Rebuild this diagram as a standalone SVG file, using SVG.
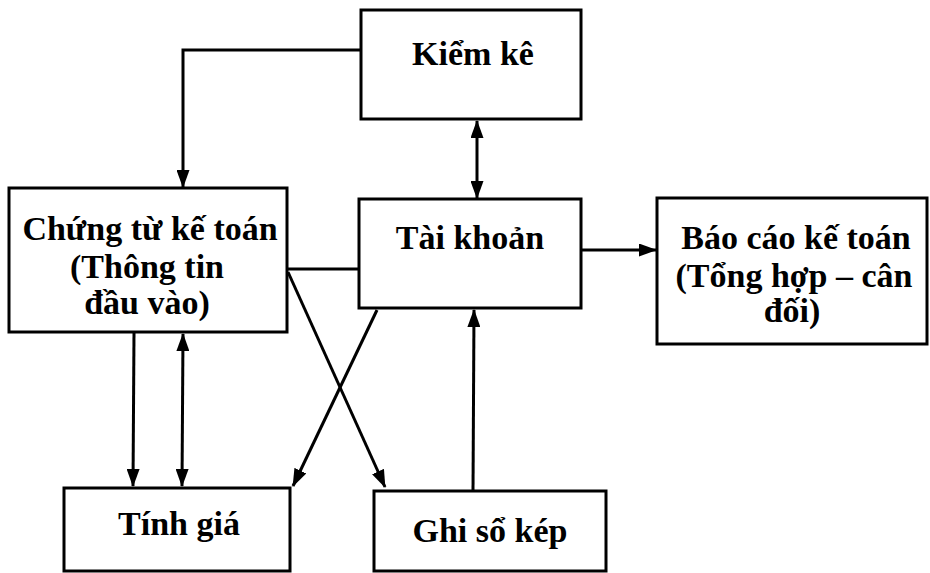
<svg xmlns="http://www.w3.org/2000/svg" width="930" height="573" viewBox="0 0 930 573">
<style>
.box{fill:#fff;stroke:#000;stroke-width:3}
.t{font-family:"Liberation Serif","Times New Roman",serif;font-weight:bold;font-size:34px;fill:#000;text-anchor:middle}
.c{fill:none;stroke:#000;stroke-width:3}
.a{marker-end:url(#ah)}
.b{marker-start:url(#ah);marker-end:url(#ah)}
</style>
<defs>
<marker id="ah" viewBox="0 0 18 13" refX="17" refY="6.5" markerWidth="18" markerHeight="13" markerUnits="userSpaceOnUse" orient="auto-start-reverse">
<path d="M0,0 L18,6.5 L0,13 Z" fill="#000"/>
</marker>
</defs>
<rect width="930" height="573" fill="#fff"/>
<g id="connectors">
<path class="c a" d="M361,50 H183 V187"/>
<path class="c b" d="M477,121 V198"/>
<path class="c a" d="M581,250 H656"/>
<path class="c" d="M287,269 H359"/>
<path class="c a" d="M288,272 L385,487"/>
<path class="c a" d="M377,310 L293,486"/>
<path class="c a" d="M134,333 L133,486"/>
<path class="c b" d="M183,334 L182,486"/>
<path class="c a" d="M473,491 L474,310"/>
</g>
<g id="kiem-ke">
<rect class="box" x="361" y="10" width="220" height="109"/>
<text class="t" x="473" y="65">Kiểm kê</text>
</g>
<g id="chung-tu">
<rect class="box" x="9" y="188" width="278" height="144"/>
<text class="t" x="150" y="240">Chứng từ kế toán</text>
<text class="t" x="147" y="278">(Thông tin</text>
<text class="t" x="147" y="314">đầu vào)</text>
</g>
<g id="tai-khoan">
<rect class="box" x="359" y="199" width="222" height="109"/>
<text class="t" x="470" y="249">Tài khoản</text>
</g>
<g id="bao-cao">
<rect class="box" x="657" y="198" width="270" height="146"/>
<text class="t" x="796" y="249">Báo cáo kế toán</text>
<text class="t" x="794" y="287">(Tổng hợp – cân</text>
<text class="t" x="792" y="322">đối)</text>
</g>
<g id="tinh-gia">
<rect class="box" x="64" y="488" width="226" height="83"/>
<text class="t" x="179" y="535">Tính giá</text>
</g>
<g id="ghi-so-kep">
<rect class="box" x="374" y="491" width="232" height="80"/>
<text class="t" x="490" y="542">Ghi sổ kép</text>
</g>
</svg>
